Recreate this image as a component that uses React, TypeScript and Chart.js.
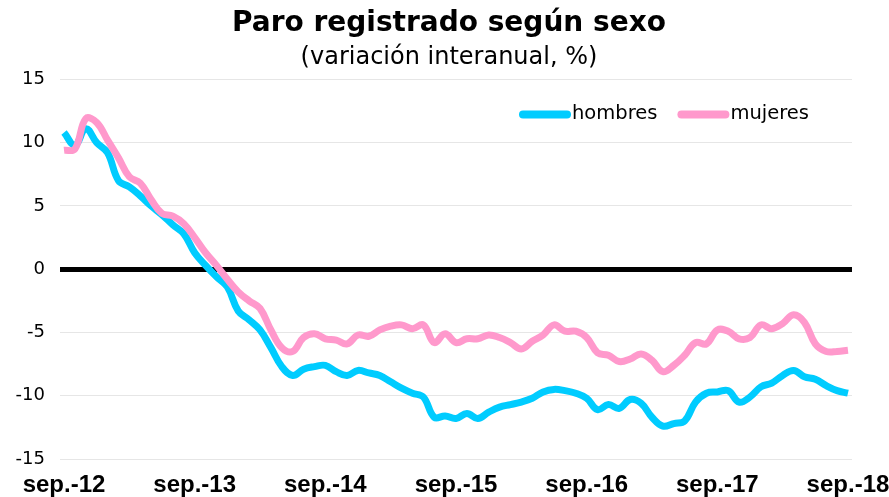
import { useEffect, useRef } from "react";
import { Chart, registerables } from "chart.js";

Chart.register(...registerables);

const hombres = [
  10.8, 9.8, 11.1, 10.0, 9.2, 7.0, 6.5, 5.8, 5.0, 4.3, 3.5, 2.8,
  1.3, 0.3, -0.6, -1.4, -3.3, -4.0, -4.8, -6.2, -7.7, -8.4, -7.9, -7.7,
  -7.6, -8.1, -8.4, -8.0, -8.2, -8.4, -8.9, -9.4, -9.8, -10.1, -11.7, -11.6,
  -11.8, -11.4, -11.8, -11.3, -10.9, -10.7, -10.5, -10.2, -9.7, -9.5, -9.6, -9.8,
  -10.2, -11.1, -10.7, -11.0, -10.3, -10.6, -11.7, -12.4, -12.2, -12.0, -10.5, -9.8,
  -9.7, -9.6, -10.5, -10.1, -9.3, -9.0, -8.4, -8.0, -8.5, -8.7, -9.2, -9.6,
  -9.8,
];

const mujeres = [
  9.4, 9.5, 11.9, 11.6, 10.2, 8.8, 7.3, 6.8, 5.5, 4.4, 4.2, 3.6,
  2.5, 1.3, 0.3, -0.8, -1.8, -2.5, -3.1, -4.8, -6.2, -6.5, -5.4, -5.1,
  -5.5, -5.6, -5.9, -5.2, -5.3, -4.8, -4.5, -4.4, -4.7, -4.4, -5.8, -5.1,
  -5.8, -5.5, -5.5, -5.2, -5.4, -5.8, -6.3, -5.7, -5.2, -4.4, -4.9, -4.9,
  -5.4, -6.6, -6.8, -7.3, -7.1, -6.7, -7.2, -8.1, -7.6, -6.8, -5.8, -5.9,
  -4.8, -4.9, -5.5, -5.4, -4.4, -4.7, -4.3, -3.6, -4.2, -5.9, -6.5, -6.5,
  -6.4,
];

const xTickLabels = ["sep.-12", "sep.-13", "sep.-14", "sep.-15", "sep.-16", "sep.-17", "sep.-18"];
const seriesLabels = ["hombres", "mujeres"];
const seriesColors = ["#00CCFF", "#FF99CC"];
const titleText = "Paro registrado según sexo";
const subtitleText = "(variación interanual, %)";

export default function App() {
  const ref = useRef<HTMLCanvasElement>(null);

  useEffect(() => {
    document.body.style.margin = "0";
    const legendPlugin = {
      id: "innerLegend",
      afterDraw(chart: any) {
        const { ctx, chartArea } = chart;
        ctx.save();
        ctx.font = "19.5px 'DejaVu Sans'";
        ctx.textBaseline = "middle";
        let x = chartArea.right - 333;
        const y = chartArea.top + 35;
        chart.data.datasets.forEach((ds: any) => {
          ctx.strokeStyle = ds.borderColor;
          ctx.lineWidth = 8;
          ctx.lineCap = "round";
          ctx.beginPath();
          ctx.moveTo(x + 4, y);
          ctx.lineTo(x + 48, y);
          ctx.stroke();
          ctx.fillStyle = "#000";
          ctx.fillText(ds.label, x + 53, y);
          x += 53 + ctx.measureText(ds.label).width + 20;
        });
        ctx.restore();
      },
    };

    const chart = new Chart(ref.current!, {
      type: "line",
      data: {
        datasets: [
          {
            label: seriesLabels[0],
            data: hombres.map((y, i) => ({ x: i, y })),
            borderColor: seriesColors[0],
            backgroundColor: seriesColors[0],
            borderWidth: 7,
            pointRadius: 0,
            tension: 0.4,
            order: 2,
          },
          {
            label: seriesLabels[1],
            data: mujeres.map((y, i) => ({ x: i, y })),
            borderColor: seriesColors[1],
            backgroundColor: seriesColors[1],
            borderWidth: 7,
            pointRadius: 0,
            tension: 0.4,
            order: 1,
          },
        ],
      },
      options: {
        animation: false,
        responsive: false,
        layout: { padding: { top: 0, right: 0, bottom: 0, left: 9 } },
        plugins: {
          legend: { display: false },
          tooltip: { enabled: false },
          title: {
            display: true,
            text: titleText,
            color: "#000",
            font: { family: "'DejaVu Sans'", size: 28, weight: "bold" },
            padding: { top: 7, bottom: 1 },
          },
          subtitle: {
            display: true,
            text: subtitleText,
            color: "#000",
            font: { family: "'DejaVu Sans'", size: 24, weight: "normal" },
            padding: { top: 2, bottom: 7 },
          },
        },
        scales: {
          x: {
            type: "linear",
            min: -0.37,
            max: 72.37,
            afterBuildTicks: (s: any) => {
              s.ticks = xTickLabels.map((_, k) => ({ value: k * 12 }));
            },
            afterFit: (s: any) => {
              s.height = 38;
              s.paddingLeft = 0;
              s.paddingRight = 37;
            },
            ticks: {
              callback: (v: any) => xTickLabels[Math.round(Number(v) / 12)],
              color: "#000",
              font: { family: "'Liberation Sans'", size: 24, weight: "bold" },
              padding: 4,
              maxRotation: 0,
              autoSkip: false,
            },
            grid: { display: false },
            border: { display: false },
          },
          y: {
            min: -15,
            max: 15,
            afterFit: (s: any) => {
              s.width = 51;
            },
            ticks: {
              stepSize: 5,
              color: "#000",
              font: { family: "'DejaVu Sans'", size: 18 },
              padding: 15,
            },
            grid: {
              drawTicks: false,
              color: (c: any) => (c.tick && c.tick.value === 0 ? "#000" : "#e6e6e6"),
              lineWidth: (c: any) => (c.tick && c.tick.value === 0 ? 5 : 1),
            },
            border: { display: false },
          },
        },
      },
      plugins: [legendPlugin],
    });
    return () => chart.destroy();
  }, []);

  return <canvas ref={ref} width={889} height={497} style={{ display: "block" }} />;
}
